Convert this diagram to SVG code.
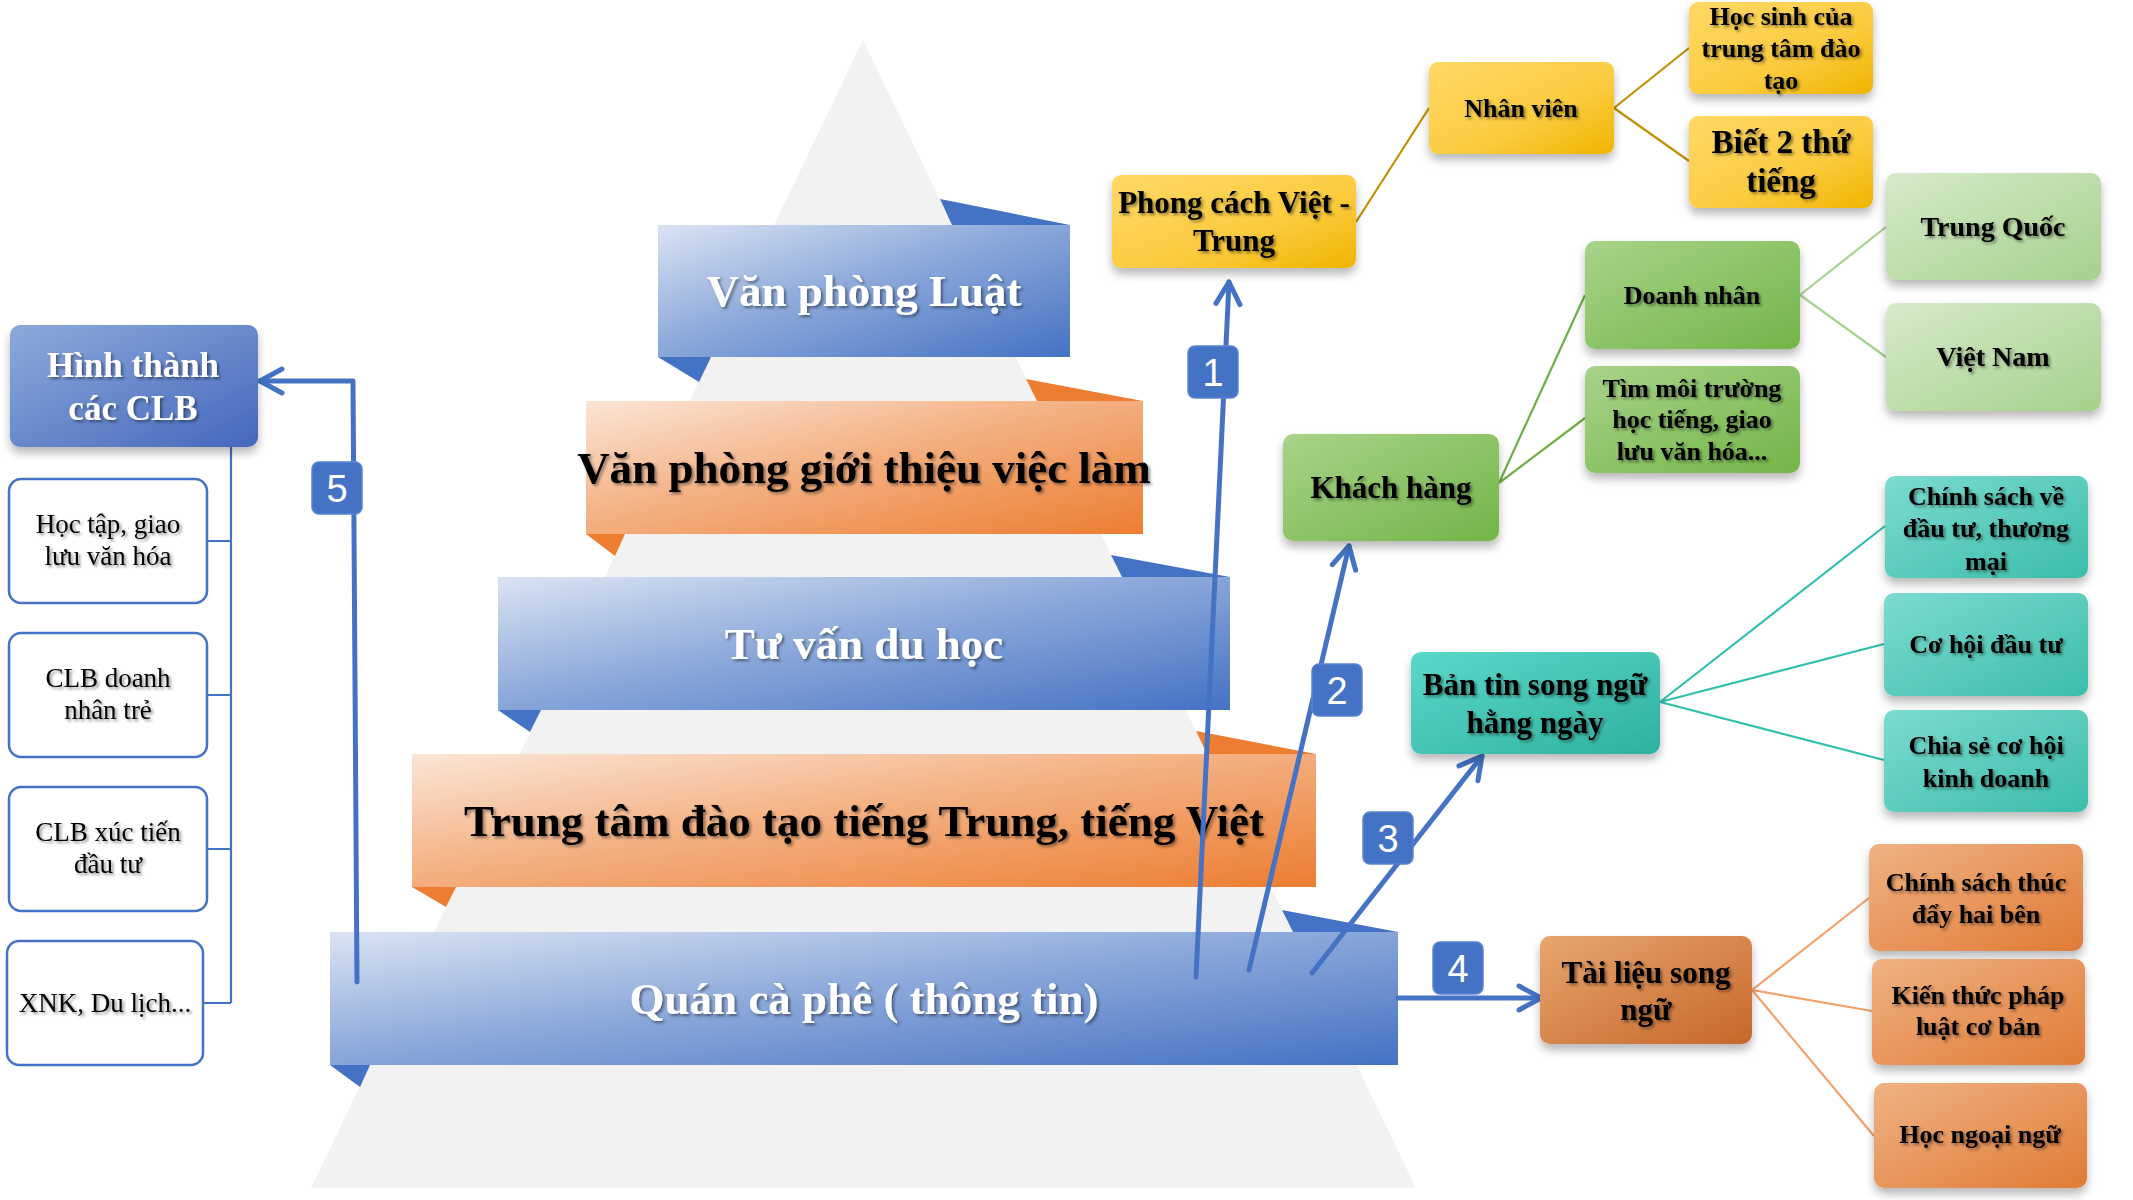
<svg xmlns="http://www.w3.org/2000/svg" width="2133" height="1200" viewBox="0 0 2133 1200">
<defs>
<linearGradient id="gBlue" x1="0" y1="0" x2="1" y2="1"><stop offset="0" stop-color="#dae3f3"/><stop offset="0.45" stop-color="#8eaadb"/><stop offset="1" stop-color="#4472c4"/></linearGradient>
<linearGradient id="gOrange" x1="0" y1="0" x2="1" y2="1"><stop offset="0" stop-color="#fbe5d6"/><stop offset="0.45" stop-color="#f4b183"/><stop offset="1" stop-color="#ed7d31"/></linearGradient>
<linearGradient id="gClb" x1="0" y1="0" x2="1" y2="1"><stop offset="0" stop-color="#8eaadb"/><stop offset="1" stop-color="#4468bd"/></linearGradient>
<linearGradient id="gYellow" x1="0" y1="0" x2="1" y2="1"><stop offset="0" stop-color="#ffd966"/><stop offset="0.6" stop-color="#fccb3e"/><stop offset="1" stop-color="#f0b400"/></linearGradient>
<linearGradient id="gGreen" x1="0" y1="0" x2="1" y2="1"><stop offset="0" stop-color="#a9d38a"/><stop offset="1" stop-color="#72b547"/></linearGradient>
<linearGradient id="gLGreen" x1="0" y1="0" x2="1" y2="1"><stop offset="0" stop-color="#d6eacb"/><stop offset="1" stop-color="#a6d18b"/></linearGradient>
<linearGradient id="gTeal" x1="0" y1="0" x2="1" y2="1"><stop offset="0" stop-color="#7ddbd0"/><stop offset="1" stop-color="#3bbdab"/></linearGradient>
<linearGradient id="gTeal2" x1="0" y1="0" x2="1" y2="1"><stop offset="0" stop-color="#5ad8ca"/><stop offset="1" stop-color="#30b19f"/></linearGradient>
<linearGradient id="gBrown" x1="0" y1="0" x2="1" y2="1"><stop offset="0" stop-color="#e8a66e"/><stop offset="1" stop-color="#c6672a"/></linearGradient>
<linearGradient id="gOr2" x1="0" y1="0" x2="1" y2="1"><stop offset="0" stop-color="#f0b283"/><stop offset="1" stop-color="#e07b36"/></linearGradient>
<filter id="sh" x="-20%" y="-20%" width="140%" height="150%"><feDropShadow dx="0" dy="6" stdDeviation="5" flood-color="#000" flood-opacity="0.28"/></filter>
<filter id="ts" x="-5%" y="-20%" width="110%" height="150%"><feDropShadow dx="2" dy="2" stdDeviation="1.5" flood-color="#000" flood-opacity="0.45"/></filter>
<marker id="ah" markerUnits="userSpaceOnUse" markerWidth="40" markerHeight="40" viewBox="-30 -20 40 40" refX="0" refY="0" orient="auto"><path d="M-22,-12 L0,0 L-22,12" fill="none" stroke="#4472c4" stroke-width="5" stroke-linecap="round" stroke-linejoin="round"/></marker>
</defs>
<style>
.t{font-family:"Liberation Serif","Times New Roman",serif;text-anchor:middle}
.b{font-weight:bold}
.band{font-size:45px;font-weight:bold}
.w{fill:#fff}
.k{fill:#000}
.fb{fill:#4472c4}
.fo{fill:#ed7d31}
.lb{fill:#fff;stroke:#4472c4;stroke-width:2.5}
.arr{fill:none;stroke:#4472c4;stroke-width:5;stroke-linecap:round;stroke-linejoin:round}
.badge rect{fill:#4472c4;stroke:#5b84d0;stroke-width:1.5}
.badge text{font-family:"Liberation Sans",Arial,sans-serif;font-size:38px;fill:#fff;text-anchor:middle}
.c{fill:none;stroke-width:2.2}
</style>
<rect width="2133" height="1200" fill="#fff"/>
<g id="pyramid">
<polygon points="863,40 1416,1188 311,1188" fill="#f2f2f2"/>
</g>
<g id="band1">
<polygon class="fb" points="940,199 1070,225 952,225"/>
<polygon class="fb" points="658,357 711,357 699,382"/>
<rect x="658" y="225" width="412" height="132" fill="url(#gBlue)"/>
<text class="t band w" x="864" y="306" filter="url(#ts)">Văn phòng Luật</text>
</g>
<g id="band2">
<polygon class="fo" points="1026,379 1143,401 1037,401"/>
<polygon class="fo" points="586,534 625,534 615,556"/>
<rect x="586" y="401" width="557" height="133" fill="url(#gOrange)"/>
<text class="t band k" x="864" y="483" filter="url(#ts)">Văn phòng giới thiệu việc làm</text>
</g>
<g id="band3">
<polygon class="fb" points="1111,555 1230,577 1122,577"/>
<polygon class="fb" points="498,710 541,710 530,732"/>
<rect x="498" y="577" width="732" height="133" fill="url(#gBlue)"/>
<text class="t band w" x="864" y="659" filter="url(#ts)">Tư vấn du học</text>
</g>
<g id="band4">
<polygon class="fo" points="1196,731 1316,754 1207,754"/>
<polygon class="fo" points="412,887 456,887 446,907"/>
<rect x="412" y="754" width="904" height="133" fill="url(#gOrange)"/>
<text class="t band k" x="864" y="836" filter="url(#ts)">Trung tâm đào tạo tiếng Trung, tiếng Việt</text>
</g>
<g id="band5">
<polygon class="fb" points="1282,910 1398,932 1293,932"/>
<polygon class="fb" points="330,1065 370,1065 360,1087"/>
<rect x="330" y="932" width="1068" height="133" fill="url(#gBlue)"/>
<text class="t band w" x="864" y="1014" filter="url(#ts)">Quán cà phê ( thông tin)</text>
</g>
<g id="connectors">
<g stroke="#4472c4" class="c">
<path d="M231,447 V1003"/>
<path d="M207,541 H231 M207,695 H231 M207,849 H231 M203,1003 H231"/>
</g>
<g stroke="#bf9000" class="c">
<path d="M1356,222 L1429,108 M1614,108 L1689,48 M1614,108 L1689,161"/>
</g>
<g stroke="#70ad47" class="c">
<path d="M1499,483 L1585,295 M1499,483 L1585,418"/>
</g>
<g stroke="#a9d18e" class="c">
<path d="M1800,295 L1886,227 M1800,295 L1886,357"/>
</g>
<g stroke="#2fbfad" class="c">
<path d="M1660,702 L1885,526 M1660,702 L1884,644 M1660,702 L1884,760"/>
</g>
<g stroke="#f4a06a" class="c">
<path d="M1752,990 L1869,898 M1752,990 L1872,1011 M1752,990 L1874,1136"/>
</g>
<path class="arr" d="M1196,977 L1229,282" marker-end="url(#ah)"/>
<path class="arr" d="M1249,970 L1349,546" marker-end="url(#ah)"/>
<path class="arr" d="M1312,973 L1482,756" marker-end="url(#ah)"/>
<path class="arr" d="M1398,998 L1541,998" marker-end="url(#ah)"/>
<path class="arr" d="M357,982 L353,381 L260,381" marker-end="url(#ah)"/>
<g class="badge">
<rect x="1188" y="346" width="50" height="52" rx="7"/><text x="1213" y="386">1</text>
<rect x="1312" y="664" width="50" height="52" rx="7"/><text x="1337" y="704">2</text>
<rect x="1363" y="812" width="50" height="52" rx="7"/><text x="1388" y="852">3</text>
<rect x="1433" y="942" width="50" height="52" rx="7"/><text x="1458" y="982">4</text>
<rect x="312" y="462" width="50" height="52" rx="7"/><text x="337" y="502">5</text>
</g>
</g>
<g id="clb">
<rect x="10" y="325" width="248" height="122" rx="10" fill="url(#gClb)" filter="url(#sh)"/>
<text class="t b w" font-size="35" filter="url(#ts)"><tspan x="133" y="377">Hình thành</tspan><tspan x="133" y="420">các CLB</tspan></text>
</g>
<g id="clb1"><rect class="lb" x="9" y="479" width="198" height="124" rx="12"/>
<text class="t k" font-size="27" filter="url(#ts)"><tspan x="108" y="533">Học tập, giao</tspan><tspan x="108" y="565">lưu văn hóa</tspan></text></g>
<g id="clb2"><rect class="lb" x="9" y="633" width="198" height="124" rx="12"/>
<text class="t k" font-size="27" filter="url(#ts)"><tspan x="108" y="687">CLB doanh</tspan><tspan x="108" y="719">nhân trẻ</tspan></text></g>
<g id="clb3"><rect class="lb" x="9" y="787" width="198" height="124" rx="12"/>
<text class="t k" font-size="27" filter="url(#ts)"><tspan x="108" y="841">CLB xúc tiến</tspan><tspan x="108" y="873">đầu tư</tspan></text></g>
<g id="clb4"><rect class="lb" x="7" y="941" width="196" height="124" rx="12"/>
<text class="t k" font-size="27" x="105" y="1012" filter="url(#ts)">XNK, Du lịch...</text></g>
<g id="phongcach"><rect x="1112" y="175" width="244" height="93" rx="9" fill="url(#gYellow)" filter="url(#sh)"/>
<text class="t b k" font-size="31" filter="url(#ts)"><tspan x="1234" y="213">Phong cách Việt -</tspan><tspan x="1234" y="251">Trung</tspan></text></g>
<g id="nhanvien"><rect x="1429" y="62" width="185" height="92" rx="9" fill="url(#gYellow)" filter="url(#sh)"/>
<text class="t b k" font-size="26" x="1521" y="117" filter="url(#ts)">Nhân viên</text></g>
<g id="hocsinh"><rect x="1689" y="2" width="184" height="92" rx="9" fill="url(#gYellow)" filter="url(#sh)"/>
<text class="t b k" font-size="26" filter="url(#ts)"><tspan x="1781" y="25">Học sinh của</tspan><tspan x="1781" y="57">trung tâm đào</tspan><tspan x="1781" y="89">tạo</tspan></text></g>
<g id="biet2"><rect x="1689" y="116" width="184" height="92" rx="9" fill="url(#gYellow)" filter="url(#sh)"/>
<text class="t b k" font-size="33" filter="url(#ts)"><tspan x="1781" y="153">Biết 2 thứ</tspan><tspan x="1781" y="192">tiếng</tspan></text></g>
<g id="khachhang"><rect x="1283" y="434" width="216" height="107" rx="10" fill="url(#gGreen)" filter="url(#sh)"/>
<text class="t b k" font-size="31" x="1391" y="498" filter="url(#ts)">Khách hàng</text></g>
<g id="doanhnhan"><rect x="1585" y="241" width="215" height="108" rx="10" fill="url(#gGreen)" filter="url(#sh)"/>
<text class="t b k" font-size="26" x="1692" y="304" filter="url(#ts)">Doanh nhân</text></g>
<g id="timmoitruong"><rect x="1585" y="366" width="215" height="107" rx="10" fill="url(#gGreen)" filter="url(#sh)"/>
<text class="t b k" font-size="26" filter="url(#ts)"><tspan x="1692" y="397">Tìm môi trường</tspan><tspan x="1692" y="428">học tiếng, giao</tspan><tspan x="1692" y="460">lưu văn hóa...</tspan></text></g>
<g id="trungquoc"><rect x="1886" y="173" width="215" height="107" rx="10" fill="url(#gLGreen)" filter="url(#sh)"/>
<text class="t b k" font-size="28" x="1993" y="236" filter="url(#ts)">Trung Quốc</text></g>
<g id="vietnam"><rect x="1886" y="303" width="215" height="108" rx="10" fill="url(#gLGreen)" filter="url(#sh)"/>
<text class="t b k" font-size="28" x="1993" y="366" filter="url(#ts)">Việt Nam</text></g>
<g id="bantin"><rect x="1411" y="652" width="249" height="102" rx="10" fill="url(#gTeal2)" filter="url(#sh)"/>
<text class="t b k" font-size="31" filter="url(#ts)"><tspan x="1535" y="695">Bản tin song ngữ</tspan><tspan x="1535" y="733">hằng ngày</tspan></text></g>
<g id="chinhsachdautu"><rect x="1885" y="476" width="203" height="102" rx="10" fill="url(#gTeal)" filter="url(#sh)"/>
<text class="t b k" font-size="26" filter="url(#ts)"><tspan x="1986" y="505">Chính sách về</tspan><tspan x="1986" y="537">đầu tư, thương</tspan><tspan x="1986" y="570">mại</tspan></text></g>
<g id="cohoi"><rect x="1884" y="593" width="204" height="103" rx="10" fill="url(#gTeal)" filter="url(#sh)"/>
<text class="t b k" font-size="26" x="1986" y="653" filter="url(#ts)">Cơ hội đầu tư</text></g>
<g id="chiase"><rect x="1884" y="710" width="204" height="102" rx="10" fill="url(#gTeal)" filter="url(#sh)"/>
<text class="t b k" font-size="26" filter="url(#ts)"><tspan x="1986" y="754">Chia sẻ cơ hội</tspan><tspan x="1986" y="787">kinh doanh</tspan></text></g>
<g id="tailieu"><rect x="1540" y="936" width="212" height="108" rx="10" fill="url(#gBrown)" filter="url(#sh)"/>
<text class="t b k" font-size="31" filter="url(#ts)"><tspan x="1646" y="983">Tài liệu song</tspan><tspan x="1646" y="1020">ngữ</tspan></text></g>
<g id="chinhsachthuc"><rect x="1869" y="844" width="214" height="107" rx="10" fill="url(#gOr2)" filter="url(#sh)"/>
<text class="t b k" font-size="26" filter="url(#ts)"><tspan x="1976" y="891">Chính sách thúc</tspan><tspan x="1976" y="923">đẩy hai bên</tspan></text></g>
<g id="kienthuc"><rect x="1872" y="959" width="213" height="106" rx="10" fill="url(#gOr2)" filter="url(#sh)"/>
<text class="t b k" font-size="26" filter="url(#ts)"><tspan x="1978" y="1004">Kiến thức pháp</tspan><tspan x="1978" y="1035">luật cơ bản</tspan></text></g>
<g id="hocngoaingu"><rect x="1874" y="1083" width="213" height="105" rx="10" fill="url(#gOr2)" filter="url(#sh)"/>
<text class="t b k" font-size="26" x="1980" y="1143" filter="url(#ts)">Học ngoại ngữ</text></g>
</svg>
